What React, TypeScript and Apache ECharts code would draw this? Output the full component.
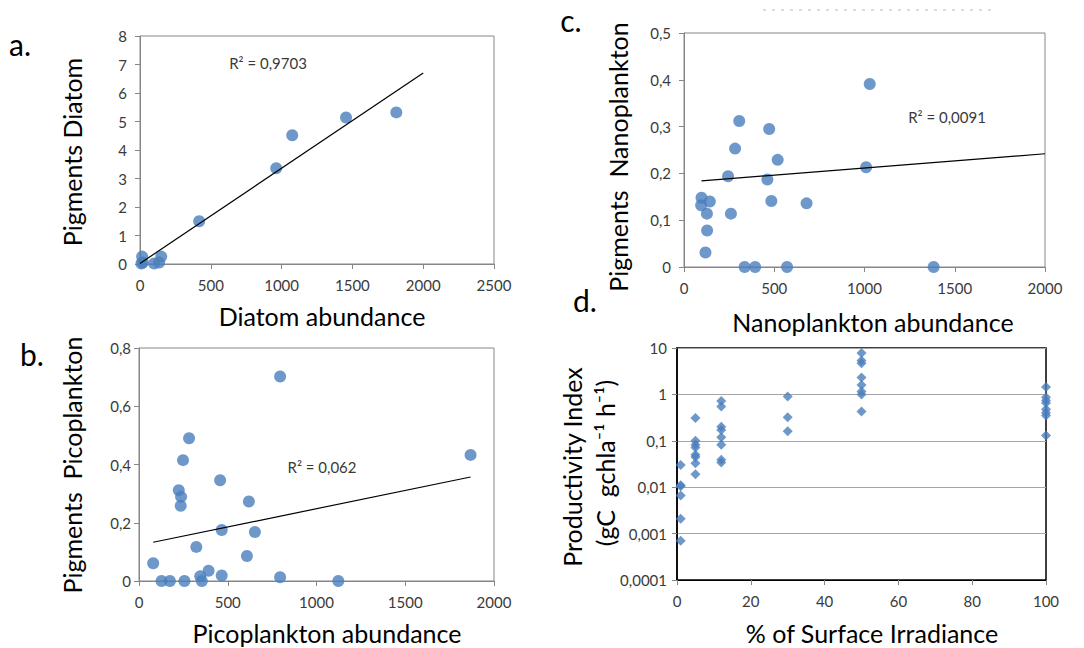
import React, { useEffect, useRef } from "react";
import * as echarts from "echarts";

// ---------- Panel a: Diatoms ----------
const diatomAbundance = [10, 15, 20, 100, 135, 150, 418, 962, 1075, 1455, 1810];
const diatomPigments = [0.02, 0.26, 0.05, 0.02, 0.05, 0.26, 1.5, 3.36, 4.52, 5.14, 5.32];
const diatomTrendX = [0, 2000];
const diatomTrendY = [0.02, 6.7];

// ---------- Panel b: Picoplankton ----------
const picoAbundance = [80, 127, 174, 224, 237, 235, 248, 256, 282, 323, 345, 354, 392, 457, 466, 466, 608, 619, 653, 795, 795, 1123, 1868];
const picoPigments = [0.061, 0, 0, 0.312, 0.289, 0.258, 0.415, 0, 0.49, 0.117, 0.016, 0, 0.035, 0.346, 0.175, 0.019, 0.086, 0.273, 0.168, 0.702, 0.013, 0, 0.433];
const picoTrendX = [80, 1868];
const picoTrendY = [0.133, 0.357];

// ---------- Panel c: Nanoplankton ----------
const nanoAbundance = [97, 95, 143, 127, 128, 119, 244, 260, 283, 306, 336, 394, 462, 472, 484, 519, 571, 679, 1009, 1029, 1383];
const nanoPigments = [0.148, 0.132, 0.14, 0.114, 0.078, 0.031, 0.194, 0.114, 0.253, 0.312, 0, 0, 0.187, 0.295, 0.141, 0.229, 0, 0.136, 0.213, 0.391, 0];
const nanoTrendX = [97, 2000];
const nanoTrendY = [0.184, 0.242];

// ---------- Panel d: Productivity index vs irradiance ----------
const irradianceLevels = [1, 5, 12, 30, 50, 100];
const piAt1 = [0.03, 0.011, 0.0105, 0.0066, 0.0021, 0.0007];
const piAt5 = [0.31, 0.1, 0.082, 0.072, 0.05, 0.045, 0.033, 0.019];
const piAt12 = [0.72, 0.55, 0.2, 0.17, 0.12, 0.082, 0.039, 0.034];
const piAt30 = [0.9, 0.32, 0.16];
const piAt50 = [7.8, 5.4, 4.7, 2.3, 1.6, 1.15, 1.0, 0.43];
const piAt100 = [1.45, 0.87, 0.74, 0.65, 0.48, 0.4, 0.35, 0.13];

const FONT = 'Lato, "Open Sans", sans-serif';
const BLUE = "#4A7EBB";
const LABEL = "#3a3a3a";
const FRAME = "#868686";
const TICK_FS = 15;

const pairs = (xs: number[], ys: number[]) => xs.map((x, i) => [x, ys[i]]);
const plain = (v: number) => String(v);
const comma = (v: number) => (v === 0 ? "0" : v.toFixed(1).replace(".", ","));
const logLabel = (v: number) => {
  const d = Math.max(0, -Math.round(Math.log10(v)));
  return v.toFixed(d).replace(".", ",");
};

const valueX = (gridIndex: number, max: number, interval: number, color: string, margin: number) => ({
  type: "value",
  gridIndex,
  min: 0,
  max,
  interval,
  splitLine: { show: false },
  axisLine: { show: true, onZero: false, lineStyle: { color, width: 1 } },
  axisTick: { show: true, inside: false, length: 5, lineStyle: { color: FRAME } },
  axisLabel: { fontSize: TICK_FS, color: LABEL, fontFamily: FONT, margin, formatter: plain },
});

const valueY = (gridIndex: number, max: number, interval: number, margin: number, formatter: (v: number) => string) => ({
  type: "value",
  gridIndex,
  min: 0,
  max,
  interval,
  splitLine: { show: false },
  axisLine: { show: true, onZero: false, lineStyle: { color: FRAME, width: 1 } },
  axisTick: { show: true, inside: false, length: 5, lineStyle: { color: FRAME } },
  axisLabel: { fontSize: TICK_FS, color: LABEL, fontFamily: FONT, margin, formatter },
});

const scatter = (idx: number, data: number[][], symbol = "circle", size = 12) => ({
  type: "scatter",
  xAxisIndex: idx,
  yAxisIndex: idx,
  data,
  symbol,
  symbolSize: size,
  itemStyle: { color: BLUE },
  z: 3,
});

const trend = (idx: number, xs: number[], ys: number[]) => ({
  type: "line",
  xAxisIndex: idx,
  yAxisIndex: idx,
  data: pairs(xs, ys),
  symbol: "none",
  lineStyle: { color: "#000", width: 1.2 },
  z: 4,
});

const txt = (text: string, x: number, y: number, fontSize: number, rotate = false, fill = "#000") => ({
  type: "text",
  x,
  y,
  rotation: rotate ? Math.PI / 2 : 0,
  style: { text, fontSize, fontFamily: FONT, fill, align: "center", verticalAlign: "middle" },
  z: 10,
});

export default function App() {
  const ref = useRef<HTMLDivElement>(null);
  useEffect(() => {
    if (!ref.current) return;
    const chart = echarts.init(ref.current, undefined, { renderer: "svg" });
    const dData: number[][] = [];
    const groups = [piAt1, piAt5, piAt12, piAt30, piAt50, piAt100];
    groups.forEach((g, i) => g.forEach((v) => dData.push([irradianceLevels[i], v])));

    chart.setOption({
      animation: false,
      backgroundColor: "#fff",
      grid: [
        { left: 140, top: 36, width: 354, height: 228, show: true, borderColor: FRAME, borderWidth: 1 },
        { left: 139, top: 348, width: 355, height: 233, show: true, borderColor: FRAME, borderWidth: 1 },
        { left: 684, top: 33, width: 361, height: 234, show: true, borderColor: FRAME, borderWidth: 1 },
        { left: 677, top: 348, width: 369, height: 232, show: true, borderColor: "#000", borderWidth: 1.5 },
      ],
      xAxis: [
        valueX(0, 2500, 500, FRAME, 13),
        valueX(1, 2000, 500, FRAME, 13),
        valueX(2, 2000, 500, FRAME, 13),
        valueX(3, 100, 20, "#000", 13),
      ],
      yAxis: [
        valueY(0, 8, 1, 13, plain),
        valueY(1, 0.8, 0.2, 8, comma),
        valueY(2, 0.5, 0.1, 13, comma),
        {
          type: "log",
          logBase: 10,
          gridIndex: 3,
          min: 0.0001,
          max: 10,
          splitLine: { show: true, lineStyle: { color: "#A6A6A6", width: 1 } },
          axisLine: { show: true, onZero: false, lineStyle: { color: "#000", width: 1.5 } },
          axisTick: { show: true, inside: false, length: 5, lineStyle: { color: FRAME } },
          axisLabel: { fontSize: TICK_FS, color: LABEL, fontFamily: FONT, margin: 10, formatter: logLabel },
        },
      ],
      series: [
        scatter(0, pairs(diatomAbundance, diatomPigments)),
        trend(0, diatomTrendX, diatomTrendY),
        scatter(1, pairs(picoAbundance, picoPigments)),
        trend(1, picoTrendX, picoTrendY),
        scatter(2, pairs(nanoAbundance, nanoPigments)),
        trend(2, nanoTrendX, nanoTrendY),
        scatter(3, dData, "diamond", 10),
      ],
      graphic: [
        txt("a.", 20, 44, 30),
        txt("b.", 32, 354, 30),
        txt("c.", 571, 20, 30),
        txt("d.", 585, 300, 30),
        txt("Pigments Diatom", 72, 152, 25, true),
        txt("Diatom abundance", 322, 316, 25),
        txt("Pigments  Picoplankton", 72, 465, 25, true),
        txt("Picoplankton abundance", 327, 633, 25),
        txt("Pigments  Nanoplankton", 618, 157, 25, true),
        txt("Nanoplankton abundance", 873, 322, 25),
        txt("Productivity Index", 572, 467, 25, true),
        txt("(gC  gchla\u207B\u00B9 h\u207B\u00B9)", 605, 463, 25, true),
        txt("% of Surface Irradiance", 872, 633, 25),
        txt("R\u00B2 = 0,9703", 268, 63, 15, false, LABEL),
        txt("R\u00B2 = 0,062", 322, 467, 15, false, LABEL),
        txt("R\u00B2 = 0,0091", 947, 117, 15, false, LABEL),
        {
          type: "line",
          shape: { x1: 763, y1: 10, x2: 993, y2: 10 },
          style: { stroke: "#cfcfcf", lineWidth: 1.5, lineDash: [3, 6] },
        },
      ],
    });
    return () => chart.dispose();
  }, []);
  return (
    <div
      ref={ref}
      style={{ position: "fixed", left: 0, top: 0, width: 1084, height: 648, background: "#fff" }}
    />
  );
}
